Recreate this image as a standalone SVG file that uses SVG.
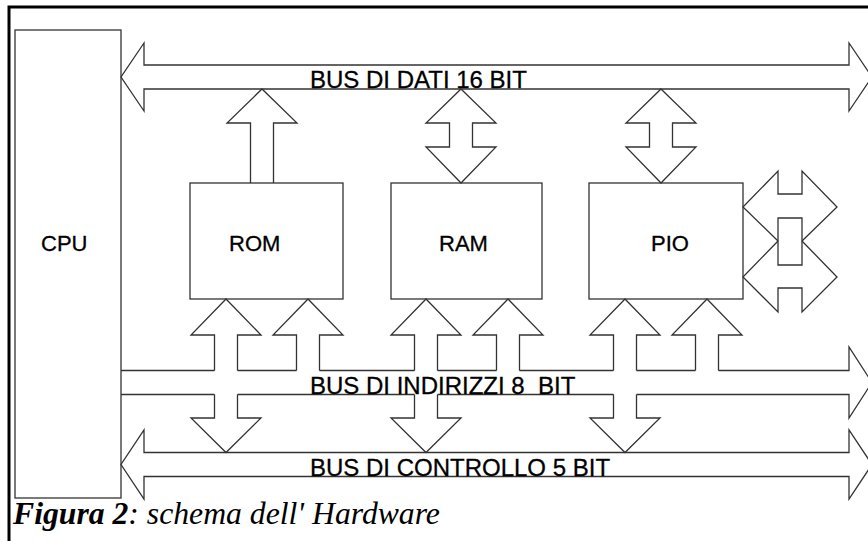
<svg xmlns="http://www.w3.org/2000/svg" width="868" height="541" viewBox="0 0 868 541">
<style>
.ln{fill:none;stroke:#333;stroke-width:1.3;stroke-linejoin:miter}
.box{fill:#fff;stroke:#333;stroke-width:1.3}
.lbl{font-family:"Liberation Sans",Arial,sans-serif;font-size:22px;fill:#000;stroke:#000;stroke-width:0.3}
.bus{font-family:"Liberation Sans",Arial,sans-serif;font-size:24px;fill:#000;stroke:#000;stroke-width:0.3}
</style>
<rect width="868" height="541" fill="#fff"/>
<path d="M9,541 V7 H868" fill="none" stroke="#000" stroke-width="3"/>
<g id="cpu">
<rect class="box" x="15" y="30" width="106" height="468"/>
<text class="lbl" x="41" y="251">CPU</text>
</g>
<g id="rom">
<rect class="box" x="190" y="183" width="153" height="116"/>
<text class="lbl" x="229" y="251">ROM</text>
</g>
<g id="ram">
<rect class="box" x="391" y="183" width="151" height="116"/>
<text class="lbl" x="439" y="251">RAM</text>
</g>
<g id="pio">
<rect class="box" x="589" y="183" width="154" height="116"/>
<text class="lbl" x="651" y="251">PIO</text>
</g>
<g id="connectors">
<g id="data-bus">
<path class="ln" d="M144,65 H849 V43 L872,77 L849,111 V89 H144 V111 L121,77 L144,43 Z"/>
<text class="bus" x="310" y="88">BUS DI DATI 16 BIT</text>
</g>
<path class="ln" d="M250.5,183 V123 H227 L262,89 L297,123 H273.5 V183"/>
<path class="ln" d="M461,89 L496,123 H472.5 V147 H496 L461,183 L426,147 H449.5 V123 H426 Z"/>
<path class="ln" d="M661,89 L696,123 H672.5 V147 H696 L661,183 L626,147 H649.5 V123 H626 Z"/>
<path class="ln" d="M778,241 L743,207 L778,171 V194 H802 V171 L837,207 L802,241"/>
<path class="ln" d="M778,218 H802 V265 H778 Z"/>
<path class="ln" d="M778,241 L743,277 L778,312 V288 H802 V312 L837,277 L802,241"/>
<g id="address-bus">
<path class="ln" d="M121,370.5 H214.5 M237.5,370.5 H296.5 M319.5,370.5 H414.5 M437.5,370.5 H496.5 M519.5,370.5 H613.5 M636.5,370.5 H695.5 M718.5,370.5 H849 V347 L872,382.5 L849,418 V394.5 H636.5 M613.5,394.5 H437.5 M414.5,394.5 H237.5 M214.5,394.5 H121"/>
<text class="bus" x="310" y="394" xml:space="preserve">BUS DI INDIRIZZI 8  BIT</text>
</g>
<path class="ln" d="M214.5,370.5 V335 H191 L226,299 L261,335 H237.5 V370.5 M214.5,394.5 V418 H191 L226,452.5 L261,418 H237.5 V394.5"/>
<path class="ln" d="M296.5,370.5 V335 H273 L308,299 L343,335 H319.5 V370.5"/>
<path class="ln" d="M414.5,370.5 V335 H391 L426,299 L461,335 H437.5 V370.5 M414.5,394.5 V418 H391 L426,452.5 L461,418 H437.5 V394.5"/>
<path class="ln" d="M496.5,370.5 V335 H473 L508,299 L543,335 H519.5 V370.5"/>
<path class="ln" d="M613.5,370.5 V335 H590 L625,299 L660,335 H636.5 V370.5 M613.5,394.5 V418 H590 L625,452.5 L660,418 H636.5 V394.5"/>
<path class="ln" d="M695.5,370.5 V335 H672 L707,299 L742,335 H718.5 V370.5"/>
<g id="control-bus">
<path class="ln" d="M144,452.5 H849 V430 L872,464.5 L849,499 V476.5 H144 V499 L121,464.5 L144,430 Z"/>
<text class="bus" x="310" y="476">BUS DI CONTROLLO 5 BIT</text>
</g>
</g>
<text id="caption" x="13" y="524" font-family="Liberation Serif,'Times New Roman',serif" font-style="italic" font-size="31.7" fill="#000"><tspan font-weight="bold">Figura 2</tspan>: schema dell' Hardware</text>
</svg>
